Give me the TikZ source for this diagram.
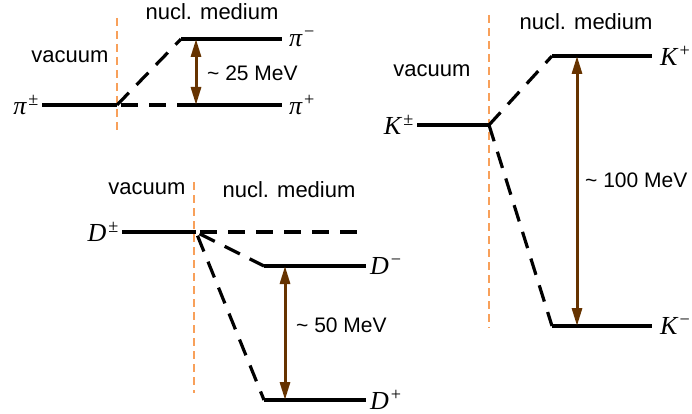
\documentclass[tikz,border=0pt]{standalone}
\usepackage{fontspec}
\setmainfont{Liberation Sans}
\newfontfamily\partfont{Liberation Serif}
\usetikzlibrary{arrows.meta, positioning}
\definecolor{splitbrown}{RGB}{102,51,0}
\definecolor{borderorange}{RGB}{248,160,90}
\newcommand{\prt}[2]{{\partfont\itshape #1}\kern2pt\textsuperscript{\partfont #2}}
\tikzset{
  level/.style={line width=3.2pt},
  shifted/.style={line width=3.2pt, dash pattern=on 17pt off 11pt},
  border/.style={borderorange, line width=1.2pt, dash pattern=on 8pt off 5pt},
  split/.style={{Triangle[length=18pt,width=10pt]}-{Triangle[length=18pt,width=10pt]}, splitbrown, line width=3pt},
  particle/.style={font=\fontsize{26}{30}\selectfont, inner sep=0pt},
  region/.style={font=\fontsize{22}{26}\selectfont, inner sep=0pt},
  gaplabel/.style={font=\fontsize{21}{25}\selectfont, inner sep=0pt, anchor=west}
}

\begin{document}
\begin{tikzpicture}[x=1pt, y=-1pt]
    \useasboundingbox (0,0) rectangle (692,414);

    % pion
    \coordinate (piVacL) at (42,105);
    \coordinate (piVac) at (117,105);
    \coordinate (piMinL) at (181,39);
    \coordinate (piMinR) at (282,39);
    \coordinate (piPlusL) at (181,105);
    \coordinate (piPlusR) at (282,105);
    \coordinate (piBorderT) at (117,18);
    \coordinate (piBorderB) at (117,132);
    \coordinate (piGapT) at (196,39);
    \coordinate (piGapB) at (196,105);

    \draw[border] (piBorderT) -- (piBorderB);
    \draw[level] (piVacL) -- (piVac);
    \draw[shifted] (piVac) -- (piMinL);
    \draw[shifted, dash phase=-4pt] (piVac) -- (piPlusL);
    \draw[level] (piMinL) -- (piMinR);
    \draw[level] (piPlusL) -- (piPlusR);
    \draw[split] (piGapT) -- (piGapB);

    \node[particle, left=3pt of piVacL] (piVacLab) {\prt{π}{±}};
    \node[particle, right=7pt of piMinR] (piMinLab) {\prt{π}{−}};
    \node[particle, right=7pt of piPlusR] (piPlusLab) {\prt{π}{+}};
    \node[region] (piVacText) at (70,57) {vacuum};
    \node[region] (piMedText) at (212,12) {nucl. medium};
    \node[gaplabel] (piGapLab) at (207,73) {\textasciitilde{} 25 MeV};

    % kaon
    \coordinate (kVacL) at (417,125);
    \coordinate (kVac) at (489,125);
    \coordinate (kPlusL) at (552,56);
    \coordinate (kPlusR) at (652,56);
    \coordinate (kMinL) at (552,326);
    \coordinate (kMinR) at (652,326);
    \coordinate (kBorderT) at (489,15);
    \coordinate (kBorderB) at (489,328);
    \coordinate (kGapT) at (577,56);
    \coordinate (kGapB) at (577,326);

    \draw[border] (kBorderT) -- (kBorderB);
    \draw[level] (kVacL) -- (kVac);
    \draw[shifted] (kVac) -- (kPlusL);
    \draw[shifted] (kVac) -- (kMinL);
    \draw[level] (kPlusL) -- (kPlusR);
    \draw[level] (kMinL) -- (kMinR);
    \draw[split] (kGapT) -- (kGapB);

    \node[particle, left=3pt of kVacL] (kVacLab) {\prt{K}{±}};
    \node[particle, right=8pt of kPlusR] (kPlusLab) {\prt{K}{+}};
    \node[particle, right=8pt of kMinR] (kMinLab) {\prt{K}{−}};
    \node[region] (kVacText) at (432,71) {vacuum};
    \node[region] (kMedText) at (586,22) {nucl. medium};
    \node[gaplabel] (kGapLab) at (585,180) {\textasciitilde{} 100 MeV};

    % charm
    \coordinate (dVacL) at (122,232);
    \coordinate (dVac) at (196,232);
    \coordinate (dSameR) at (362,232);
    \coordinate (dMinL) at (264,266);
    \coordinate (dMinR) at (366,266);
    \coordinate (dPlusL) at (264,400);
    \coordinate (dPlusR) at (366,400);
    \coordinate (dBorderT) at (194,182);
    \coordinate (dBorderB) at (194,393);
    \coordinate (dGapT) at (285,266);
    \coordinate (dGapB) at (285,400);

    \draw[border] (dBorderT) -- (dBorderB);
    \draw[level] (dVacL) -- (dVac);
    \draw[shifted, dash phase=-4pt] (dVac) -- (dSameR);
    \draw[shifted, dash phase=-4pt] (dVac) -- (dMinL);
    \draw[shifted, dash phase=-4pt] (dVac) -- (dPlusL);
    \draw[level] (dMinL) -- (dMinR);
    \draw[level] (dPlusL) -- (dPlusR);
    \draw[split] (dGapT) -- (dGapB);

    \node[particle, left=3pt of dVacL] (dVacLab) {\prt{D}{±}};
    \node[particle, right=4pt of dMinR] (dMinLab) {\prt{D}{−}};
    \node[particle, right=4pt of dPlusR] (dPlusLab) {\prt{D}{+}};
    \node[region] (dVacText) at (147,189) {vacuum};
    \node[region] (dMedText) at (289,190) {nucl. medium};
    \node[gaplabel] (dGapLab) at (296,325) {\textasciitilde{} 50 MeV};
\end{tikzpicture}
\end{document}
